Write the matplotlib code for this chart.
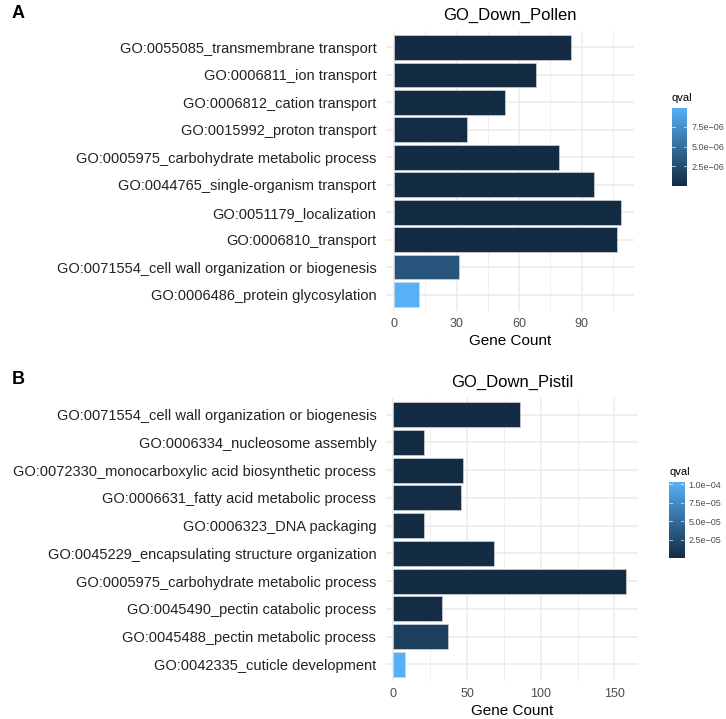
import matplotlib.pyplot as plt
import numpy as np
from matplotlib.colors import LinearSegmentedColormap, Normalize

plt.rcParams['font.family'] = ['Liberation Sans', 'DejaVu Sans']

# panel A data
terms_a = ["GO:0055085_transmembrane transport", "GO:0006811_ion transport",
           "GO:0006812_cation transport", "GO:0015992_proton transport",
           "GO:0005975_carbohydrate metabolic process",
           "GO:0044765_single-organism transport", "GO:0051179_localization",
           "GO:0006810_transport",
           "GO:0071554_cell wall organization or biogenesis",
           "GO:0006486_protein glycosylation"]
count_a = [85, 68, 53, 35, 79, 96, 109, 107, 31, 12]
qval_a = [1e-9, 2e-9, 5e-9, 8e-8, 1e-9, 1e-9, 1e-10, 1e-10, 3.1e-6, 9.9e-6]

# panel B data
terms_b = ["GO:0071554_cell wall organization or biogenesis",
           "GO:0006334_nucleosome assembly",
           "GO:0072330_monocarboxylic acid biosynthetic process",
           "GO:0006631_fatty acid metabolic process",
           "GO:0006323_DNA packaging",
           "GO:0045229_encapsulating structure organization",
           "GO:0005975_carbohydrate metabolic process",
           "GO:0045490_pectin catabolic process",
           "GO:0045488_pectin metabolic process",
           "GO:0042335_cuticle development"]
count_b = [86, 21, 47, 46, 21, 68, 158, 33, 37, 8]
qval_b = [1e-9, 5e-7, 8e-7, 1e-6, 5e-7, 1e-8, 1e-12, 9e-7, 1.5e-5, 1.03e-4]

cmap = LinearSegmentedColormap.from_list("gg", ["#132B43", "#56B1F7"])

W, H = 726, 719
fig = plt.figure(figsize=(W / 100, H / 100), dpi=100)


def box(l, t, r, b):
    return [l / W, 1 - b / H, (r - l) / W, (b - t) / H]


def panel(ax_box, cb_box, terms, counts, qvals, xlim, major, minor, title,
          cbticks, cblabels, letter, letter_y):
    ax = fig.add_axes(box(*ax_box))
    n = len(terms)
    y = np.arange(n)[::-1] + 1
    norm = Normalize(min(qvals), max(qvals))
    ax.barh(y, counts, height=0.9, color=cmap(norm(qvals)),
            edgecolor='#d0d4d8', linewidth=0.5, zorder=3)
    ax.set_ylim(0.4, n + 0.6)
    ax.set_xlim(*xlim)
    ax.set_yticks(y)
    ax.set_yticklabels(terms, fontsize=10.5, color='#222222')
    ax.set_xticks(major)
    ax.set_xticks(minor, minor=True)
    ax.tick_params(axis='y', length=0, pad=7)
    ax.tick_params(axis='x', which='both', length=0, pad=5,
                   labelsize=9, labelcolor='#4d4d4d')
    ax.grid(True, which='major', color='#ebebeb', linewidth=1.1, zorder=0)
    ax.grid(True, which='minor', axis='x', color='#ebebeb', linewidth=0.55,
            zorder=0)
    for s in ax.spines.values():
        s.set_visible(False)
    ax.set_xlabel("Gene Count", fontsize=11, labelpad=3)
    ax.set_title(title, fontsize=12, pad=8)

    cax = fig.add_axes(box(*cb_box))
    grad = np.linspace(0, 1, 256).reshape(-1, 1)
    cax.imshow(grad, aspect='auto', cmap=cmap, origin='lower',
               extent=[0, 1, norm.vmin, norm.vmax])
    for t in cbticks:
        cax.plot([0, 0.2], [t, t], color='white', lw=0.8, alpha=0.6)
        cax.plot([0.8, 1], [t, t], color='white', lw=0.8, alpha=0.6)
    cax.set_xlim(0, 1)
    cax.set_ylim(norm.vmin, norm.vmax)
    cax.set_xticks([])
    cax.yaxis.tick_right()
    cax.set_yticks(cbticks)
    cax.set_yticklabels(cblabels, fontsize=6.5, color='#4d4d4d')
    cax.tick_params(axis='y', length=0, pad=3)
    for s in cax.spines.values():
        s.set_visible(False)
    cax.set_title("qval", fontsize=8, loc='left', pad=5)

    fig.text(12 / W, 1 - letter_y / H, letter, fontsize=13,
             fontweight='bold', va='center', ha='left')


panel((386, 31, 634, 311), (672, 108, 687, 186), terms_a, count_a, qval_a,
      (-3.8, 115), [0, 30, 60, 90], [15, 45, 75, 105], "GO_Down_Pollen",
      [2.5e-6, 5.0e-6, 7.5e-6], ["2.5e\u221206", "5.0e\u221206", "7.5e\u221206"],
      "A", 13)

panel((386, 398, 638, 681), (669, 482, 684, 558), terms_b, count_b, qval_b,
      (-5, 166), [0, 50, 100, 150], [25, 75, 125], "GO_Down_Pistil",
      [2.5e-5, 5.0e-5, 7.5e-5, 1.0e-4],
      ["2.5e\u221205", "5.0e\u221205", "7.5e\u221205", "1.0e\u221204"],
      "B", 380)

fig.savefig("out.png", dpi=100)
